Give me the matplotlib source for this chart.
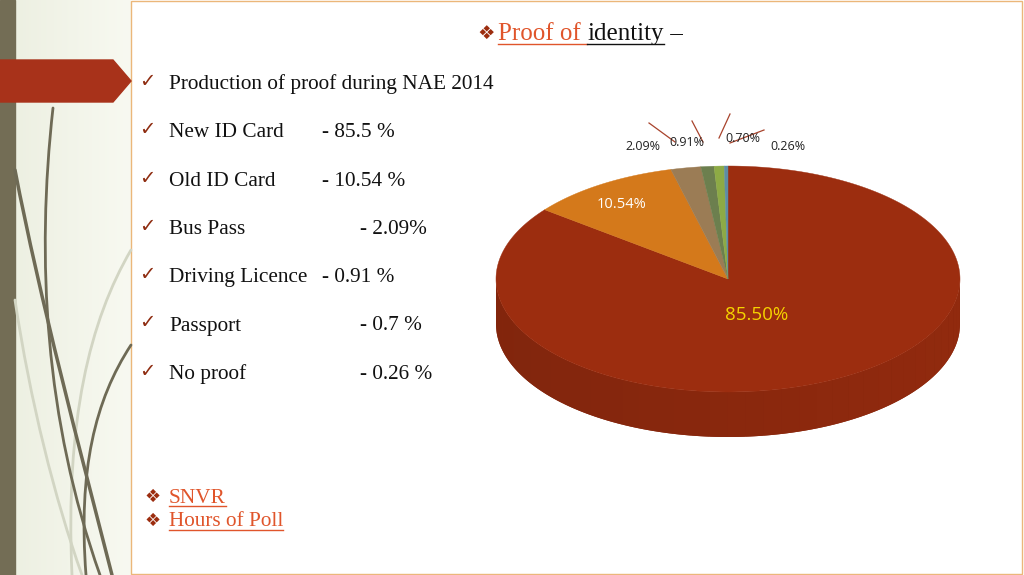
import numpy as np
import matplotlib.pyplot as plt
from matplotlib.path import Path
from matplotlib.patches import PathPatch, Polygon, Rectangle
import matplotlib.colors as mcolors

# data
shares = [85.50, 10.54, 2.09, 0.91, 0.70, 0.26]
slice_colors = ['#9C2D0F', '#D4791B', '#9B7C55', '#6C7F4E', '#8DAA45', '#5E8CA3']
items = ['New ID Card', 'Old ID Card', 'Bus Pass', 'Driving Licence', 'Passport', 'No proof']
item_values = ['- 85.5 %', '- 10.54 %', '- 2.09%', '- 0.91 %', '- 0.7 %', '- 0.26 %']
heading = 'Production of proof during NAE 2014'
links = ['SNVR', 'Hours of Poll']

# layout (pixels)
value_x = [322, 322, 360, 322, 360, 360]
label_pos = [(757, 315), (622, 204), (643, 147), (687, 142), (743, 138), (788, 147)]
label_col = ['#F5D300', 'white', '#222222', '#222222', '#222222', '#222222']
label_size = [13.5, 10.5, 9, 9, 9, 9]
leaders = [((649, 123), (675, 142)), ((692, 121), (703, 142)),
           ((730, 114), (719, 138)), ((730, 143), (764, 130))]

fig = plt.figure(figsize=(10.24, 5.75), dpi=100)
ax = fig.add_axes([0, 0, 1, 1])
ax.set_xlim(0, 1024)
ax.set_ylim(575, 0)
ax.axis('off')

# left panel
grad = np.linspace(0, 1, 100)[None, :]
cmap = mcolors.LinearSegmentedColormap.from_list('bg', ['#EDF0E2', '#F8F9F1'])
ax.imshow(grad, extent=[15, 131, 575, 0], cmap=cmap, aspect='auto', zorder=0)
ax.add_patch(Rectangle((0, 0), 15, 575, color='#736D55', zorder=1))

def curve(pts, color, lw):
    p = Path(pts, [Path.MOVETO, Path.CURVE4, Path.CURVE4, Path.CURVE4])
    ax.add_patch(PathPatch(p, fill=False, edgecolor=color, lw=lw, zorder=2,
                           capstyle='round'))

curve([(131, 250), (90, 320), (65, 420), (72, 575)], '#D2D5C3', 2)
curve([(15, 300), (30, 400), (55, 500), (82, 575)], '#D2D5C3', 2)
curve([(15, 170), (40, 300), (80, 450), (112, 575)], '#6E6A55', 2.5)
curve([(53, 108), (36, 260), (45, 420), (100, 575)], '#6E6A55', 2)
curve([(131, 345), (95, 400), (78, 470), (86, 575)], '#6E6A55', 2)

ax.add_patch(Polygon([(0, 60), (113, 60), (131, 81), (113, 102), (0, 102)],
                     closed=True, color='#A8321A', zorder=3))

# content area
ax.add_patch(Rectangle((131, 1), 891, 573, facecolor='white',
                       edgecolor='#EBB77A', lw=1, zorder=1))

fig.canvas.draw()
rend = fig.canvas.get_renderer()

def text_width(t):
    bb = t.get_window_extent(rend)
    return bb.x1 - bb.x0

serif = 'Liberation Serif'

# title
ax.text(486, 39, '\u2756', fontsize=14, color='#9C2D0F', ha='center',
        va='baseline', family='DejaVu Sans')
x = 498
for s, c, ul in [('Proof of ', '#E0552B', True), ('identity', '#111111', True),
                 (' \u2013', '#111111', False)]:
    t = ax.text(x, 40, s, fontsize=18, color=c, family=serif, va='baseline')
    w = text_width(t)
    if ul:
        ax.plot([x, x + w], [44, 44], color=c, lw=1)
    x += w

# bullet list
rows = [(heading, None, None)] + list(zip(items, item_values, value_x))
for i, (name, val, vx) in enumerate(rows):
    yb = 89 + i * 48.3
    ax.text(147, yb - 2, '\u2713', fontsize=14, color='#8E2C10', ha='center',
            va='baseline', family='DejaVu Sans', fontweight='bold')
    ax.text(169, yb, name, fontsize=15.3, color='#111111', family=serif, va='baseline')
    if val:
        ax.text(vx, yb, val, fontsize=15.3, color='#111111', family=serif, va='baseline')

for i, s in enumerate(links):
    yb = 503 + i * 23.5
    ax.text(153, yb - 1, '\u2756', fontsize=13, color='#9C2D0F', ha='center',
            va='baseline', family='DejaVu Sans')
    t = ax.text(169, yb, s, fontsize=15.3, color='#E0552B', family=serif, va='baseline')
    w = text_width(t)
    ax.plot([169, 169 + w], [yb + 3, yb + 3], color='#E0552B', lw=1)

# 3d pie
cx, cy, a, b, depth = 728, 279, 232, 113, 45
fr = np.array(shares) / np.sum(shares)
edges = 90 - 360 * np.concatenate([[0], np.cumsum(fr)])

def darken(c, f):
    r, g, bl = mcolors.to_rgb(c)
    return (r * f, g * f, bl * f)

for i in range(len(shares)):
    t = np.radians(np.linspace(edges[i], edges[i + 1], 400))
    front = t[np.sin(t) <= 0]
    if len(front) < 2:
        continue
    fx = cx + a * np.cos(front)
    fy = cy - b * np.sin(front)
    base = list(zip(fx, fy)) + list(zip(fx[::-1], fy[::-1] + depth))
    ax.add_patch(Polygon(base, closed=True, facecolor=darken(slice_colors[i], 0.87),
                         edgecolor='none', zorder=4))
    n = 40
    lo, hi = front[-1], front[0]
    for k in range(n):
        s0 = hi - k * (hi - lo) / n
        s1 = hi - (k + 1) * (hi - lo) / n
        seg = np.linspace(s0, s1, 20)
        sx = cx + a * np.cos(seg)
        sy = cy - b * np.sin(seg)
        shade = 0.93 - 0.10 * (1 - (np.cos(seg.mean()) + 1) / 2)
        p2 = list(zip(sx, sy)) + list(zip(sx[::-1], sy[::-1] + depth))
        col = darken(slice_colors[i], shade)
        ax.add_patch(Polygon(p2, closed=True, facecolor=col, edgecolor='none',
                             zorder=4))

for i in range(len(shares)):
    t = np.radians(np.linspace(edges[i], edges[i + 1], 400))
    pts = [(cx, cy)] + list(zip(cx + a * np.cos(t), cy - b * np.sin(t)))
    ax.add_patch(Polygon(pts, closed=True, facecolor=slice_colors[i],
                         edgecolor=slice_colors[i], lw=0.3, zorder=5))

for i, v in enumerate(shares):
    px, py = label_pos[i]
    ax.text(px, py, f'{v:.2f}%', fontsize=label_size[i], color=label_col[i],
            family='Open Sans', ha='center', va='center', zorder=7)

for (x0, y0), (x1, y1) in leaders:
    ax.plot([x0, x1], [y0, y1], color='#A8432C', lw=0.9, zorder=6)

fig.savefig('out.png', dpi=100)
